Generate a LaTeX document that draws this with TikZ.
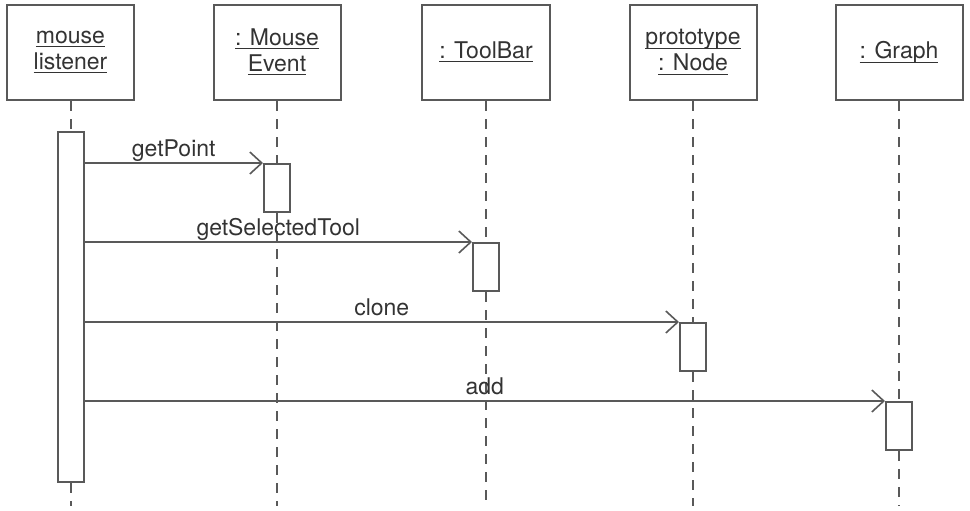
\documentclass[tikz,border=0pt]{standalone}
\usepackage{amsmath}
\usepackage{fontspec}
\setmainfont{TeX Gyre Heros}
\usepackage{tikz}
\usetikzlibrary{arrows.meta}

\definecolor{linegray}{gray}{0.35}
\newcommand{\objname}[1]{\underline{\smash[b]{#1}}}

\tikzset{
  object/.style={draw=linegray,line width=1pt,minimum width=63.5pt,minimum height=47.5pt,
    align=center,inner sep=0pt,font=\fontsize{11.5}{13}\selectfont,text=black!80},
  activation/.style={draw=linegray,fill=white,line width=1pt,minimum width=13pt,inner sep=0pt},
  lifeline/.style={draw=linegray,line width=1pt,dash pattern=on 5pt off 4pt},
  message/.style={draw=linegray,line width=0.8pt,-{Straight Barb[length=6pt,width=11pt]}},
  msglabel/.style={midway,anchor=base,yshift=3.5pt,inner sep=0pt,
    font=\fontsize{11.5}{13}\selectfont,text=black!80},
}

\begin{document}
\begin{tikzpicture}[x=0.5pt,y=-0.5pt]
\useasboundingbox (0,0) rectangle (970,510);

% objects
\node[object] (listener) at (70.5,52.5) {\objname{mouse}\\\objname{listener}};
\node[object] (event) at (277,52.5) {\objname{: Mouse}\\\objname{Event}};
\node[object,minimum width=64pt] (toolbar) at (486,52.5) {\objname{: ToolBar}};
\node[object] (proto) at (693,52.5) {\objname{prototype}\\\objname{: Node}};
\node[object] (graph) at (899,52.5) {\objname{: Graph}};

% activations
\node[activation,minimum height=175pt] (act1) at (70.5,307) {};
\node[activation,minimum height=24pt] (act2) at (277,188) {};
\node[activation,minimum height=24pt] (act3) at (486,267) {};
\node[activation,minimum height=24pt] (act4) at (693,347) {};
\node[activation,minimum height=24pt] (act5) at (899,426) {};

% ends of the lifelines
\coordinate (end1) at (70.5,506);
\coordinate (end2) at (277,506);
\coordinate (end3) at (486,506);
\coordinate (end4) at (693,506);
\coordinate (end5) at (899,506);

% lifelines
\draw[lifeline] (listener.south) -- (act1.north);
\draw[lifeline] (act1.south) -- (end1);
\draw[lifeline] (event.south) -- (act2.north);
\draw[lifeline] (act2.south) -- (end2);
\draw[lifeline] (toolbar.south) -- (act3.north);
\draw[lifeline] (act3.south) -- (end3);
\draw[lifeline] (proto.south) -- (act4.north);
\draw[lifeline] (act4.south) -- (end4);
\draw[lifeline] (graph.south) -- (act5.north);
\draw[lifeline] (act5.south) -- (end5);

% messages
\draw[message] (act1.east |- act2.north) -- (act2.north west) node[msglabel] {getPoint};
\draw[message] (act1.east |- act3.north) -- (act3.north west) node[msglabel] {getSelectedTool};
\draw[message] (act1.east |- act4.north) -- (act4.north west) node[msglabel] {clone};
\draw[message] (act1.east |- act5.north) -- (act5.north west) node[msglabel] {add};
\end{tikzpicture}
\end{document}
